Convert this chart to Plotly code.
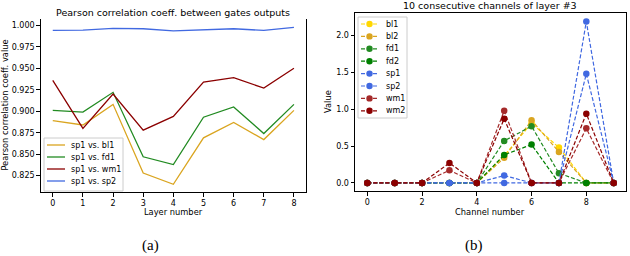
import plotly.graph_objects as go

# ---- Panel (a) data ----
layers = [0, 1, 2, 3, 4, 5, 6, 7, 8]
corr_bl1 = [0.889, 0.884, 0.908, 0.828, 0.815, 0.869, 0.887, 0.867, 0.901]
corr_fd1 = [0.901, 0.899, 0.922, 0.847, 0.838, 0.893, 0.905, 0.874, 0.908]
corr_wm1 = [0.936, 0.880, 0.920, 0.878, 0.894, 0.934, 0.939, 0.927, 0.950]
corr_sp2 = [0.994, 0.9945, 0.9965, 0.996, 0.9935, 0.9945, 0.996, 0.994, 0.9977]
left_names = ["sp1 vs. bl1", "sp1 vs. fd1", "sp1 vs. wm1", "sp1 vs. sp2"]
left_colors = ["#DAA520", "#228B22", "#8B0000", "#4169E1"]

# ---- Panel (b) data ----
channels = [0, 1, 2, 3, 4, 5, 6, 7, 8, 9]
val_bl1 = [0, 0, 0, 0, 0, 0.37, 0.81, 0.48, 0, 0]
val_bl2 = [0, 0, 0, 0, 0, 0.34, 0.85, 0.42, 0, 0]
val_fd1 = [0, 0, 0, 0, 0, 0.57, 0.77, 0.13, 0, 0]
val_fd2 = [0, 0, 0, 0, 0, 0.38, 0.52, 0, 0, 0]
val_sp1 = [0, 0, 0, 0, 0, 0.10, 0, 0, 1.48, 0]
val_sp2 = [0, 0, 0, 0, 0, 0, 0, 0, 2.19, 0]
val_wm1 = [0, 0, 0, 0.17, 0, 0.98, 0, 0, 0.74, 0]
val_wm2 = [0, 0, 0, 0.27, 0, 0.87, 0, 0, 0.94, 0]
right_names = ["bl1", "bl2", "fd1", "fd2", "sp1", "sp2", "wm1", "wm2"]
right_colors = ["#FFD700", "#DAA520", "#228B22", "#008000",
                "#4169E1", "#4169E1", "#A52A2A", "#8B0000"]

FONT = "DejaVu Sans"
W, H = 630, 256
DASH = "4px,2px"
fig = go.Figure()

for ys, name, col in zip([corr_bl1, corr_fd1, corr_wm1, corr_sp2], left_names, left_colors):
    fig.add_trace(go.Scatter(x=layers, y=ys, mode="lines", name=name,
                             line=dict(color=col, width=1.3),
                             xaxis="x", yaxis="y", showlegend=False))

for ys, name, col in zip([val_bl1, val_bl2, val_fd1, val_fd2, val_sp1, val_sp2, val_wm1, val_wm2],
                         right_names, right_colors):
    fig.add_trace(go.Scatter(x=channels, y=ys, mode="lines+markers", name=name,
                             line=dict(color=col, width=1.2, dash=DASH),
                             marker=dict(color=col, size=6.5),
                             xaxis="x2", yaxis="y2", showlegend=False))

axis_common = dict(showgrid=False, zeroline=False, ticks="outside", ticklen=3.5,
                   tickcolor="black", linecolor="black", linewidth=1, showline=True,
                   automargin=False,
                   tickfont=dict(family=FONT, size=8, color="black"))


def px(x):
    return x / W


def py(y):
    return 1 - y / H


def label(text, x, y, size=8, family=FONT, angle=0, xanchor="center"):
    return dict(text=text, x=px(x), y=py(y), xref="paper", yref="paper",
                xanchor=xanchor, yanchor="middle", showarrow=False, textangle=angle,
                font=dict(family=family, size=size, color="black"))


shapes = []
annotations = []

# ---- manual legend, panel (a) ----
shapes.append(dict(type="rect", xref="paper", yref="paper",
                   x0=px(44), x1=px(123), y0=py(191), y1=py(138),
                   line=dict(color="#cccccc", width=1), fillcolor="rgba(255,255,255,0.8)"))
for i, (name, col) in enumerate(zip(left_names, left_colors)):
    yy = 145 + i * 12
    shapes.append(dict(type="line", xref="paper", yref="paper",
                       x0=px(47), x1=px(65), y0=py(yy), y1=py(yy),
                       line=dict(color=col, width=1.3)))
    annotations.append(label(name, 69, yy, size=8, xanchor="left"))

# ---- manual legend, panel (b) ----
shapes.append(dict(type="rect", xref="paper", yref="paper",
                   x0=px(358), x1=px(407), y0=py(118), y1=py(17),
                   line=dict(color="#cccccc", width=1), fillcolor="rgba(255,255,255,0.8)"))
for i, (name, col) in enumerate(zip(right_names, right_colors)):
    yy = 24 + i * 12.4
    shapes.append(dict(type="line", xref="paper", yref="paper",
                       x0=px(361), x1=px(378), y0=py(yy), y1=py(yy),
                       line=dict(color=col, width=1.2, dash=DASH)))
    shapes.append(dict(type="circle", xref="paper", yref="paper",
                       x0=px(366.3), x1=px(372.7), y0=py(yy + 3.2), y1=py(yy - 3.2),
                       line=dict(color=col, width=0), fillcolor=col))
    annotations.append(label(name, 384, yy, size=8, xanchor="left"))

# ---- titles, axis titles and captions ----
annotations += [
    label("Pearson correlation coeff. between gates outputs", 173, 12, size=9.5),
    label("10 consecutive channels of layer #3", 490, 5.5, size=9.5),
    label("Layer number", 173, 212, size=8.3),
    label("Channel number", 490, 212, size=8.3),
    label("Pearson correlation coeff. value", 5, 105.6, size=8.3, angle=-90),
    label("Value", 328, 102, size=8.3, angle=-90),
    label("(a)", 150, 245, size=15, family="Liberation Serif"),
    label("(b)", 474, 245, size=15, family="Liberation Serif"),
]

fig.update_layout(
    width=W, height=H,
    margin=dict(l=0, r=0, t=0, b=0),
    paper_bgcolor="white", plot_bgcolor="white",
    font=dict(family=FONT, size=8, color="black"),
    showlegend=False,
    xaxis=dict(domain=[px(40.7), px(306)], range=[-0.4, 8.4], tickvals=layers,
               anchor="y", **axis_common),
    yaxis=dict(domain=[py(192), py(19.3)], range=[0.806, 1.007],
               tickvals=[0.825, 0.85, 0.875, 0.9, 0.925, 0.95, 0.975, 1.0],
               tickformat=".3f", mirror=True, anchor="x", **axis_common),
    xaxis2=dict(domain=[px(355), px(626)], range=[-0.45, 9.45], tickvals=[0, 2, 4, 6, 8],
                anchor="y2", mirror=True, **axis_common),
    yaxis2=dict(domain=[py(191), py(12.7)], range=[-0.11, 2.31],
                tickvals=[0, 0.5, 1.0, 1.5, 2.0], tickformat=".1f", mirror=True,
                anchor="x2", **axis_common),
    shapes=shapes,
    annotations=annotations,
)

fig.write_html("out.html", config={"displayModeBar": False},
               post_script="document.body.style.margin='0';document.body.style.overflow='hidden';")
